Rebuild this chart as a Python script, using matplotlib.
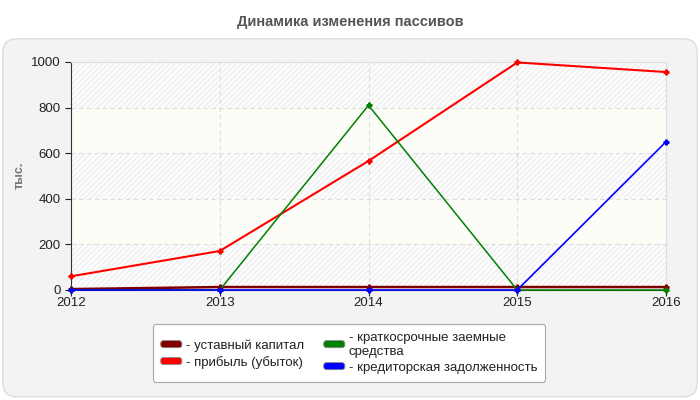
import matplotlib
matplotlib.use('Agg')
import matplotlib.pyplot as plt
from matplotlib.patches import FancyBboxPatch, Patch
from matplotlib.legend_handler import HandlerPatch

plt.rcParams['font.family'] = ['Liberation Sans', 'DejaVu Sans']

years = [2012, 2013, 2014, 2015, 2016]
ustavny = [4, 13, 13, 13, 13]
pribyl = [60, 171, 566, 998, 956]
kratko = [0, 0, 810, 0, 0]
kredit = [0, 0, 0, 0, 650]

series_labels = ['- уставный капитал', '- прибыль (убыток)',
                 '- краткосрочные заемные\nсредства', '- кредиторская задолженность']
series_colors = ['#800000', '#ff0000', '#008000', '#0000ff']
series_widths = [1.8, 1.5, 1.1, 1.2]

fig = plt.figure(figsize=(7, 4), dpi=100)
fig.patch.set_facecolor('white')

# rounded grey panel behind chart
panel = FancyBboxPatch((0.004, 0.008), 0.992, 0.895, boxstyle='round,pad=0,rounding_size=0.02',
                       transform=fig.transFigure, facecolor='#f3f3f3', edgecolor='#dddddd',
                       linewidth=1, zorder=-5, mutation_aspect=1.75)
fig.patches.append(panel)

fig.text(0.5, 0.945, 'Динамика изменения пассивов', ha='center', va='center',
         fontsize=10.5, fontweight='bold', color='#555555')

ax = fig.add_axes([71/700, 1 - 290/400, 595/700, 228/400])
ax.set_zorder(1)
ax.set_facecolor('#fdfdf8')

# alternating hatched bands
for lo in (0, 400, 800):
    ax.axhspan(lo, lo + 200, facecolor='#fdfdfd', hatch='//////', edgecolor='#efefef',
               linewidth=0, zorder=0)

ax.grid(True, color='#dddddd', linestyle=(0, (4, 3)), linewidth=0.8)
ax.set_axisbelow(True)

for vals, lab, col, lw in zip([ustavny, pribyl, kratko, kredit], series_labels,
                              series_colors, series_widths):
    ax.plot(years, vals, color=col, linewidth=lw, marker='P', markersize=3.5,
            clip_on=False, zorder=3, label=lab)

ax.set_xlim(2012, 2016)
ax.set_ylim(0, 1000)
ax.set_xticks(years)
ax.set_yticks([0, 200, 400, 600, 800, 1000])
ax.tick_params(labelsize=9.5, colors='#222222', length=4, width=0.8)
ax.tick_params(axis='x', pad=1)
for side in ('top', 'right'):
    ax.spines[side].set_color('#dddddd')
for side in ('left', 'bottom'):
    ax.spines[side].set_color('#333333')

fig.text(20/700, 1 - 175/400, 'тыс.', rotation=90, ha='center', va='center',
         fontsize=9, fontweight='bold', color='#777777')


class RoundHandler(HandlerPatch):
    def create_artists(self, legend, orig_handle, xdescent, ydescent, width, height,
                       fontsize, trans):
        p = FancyBboxPatch((0, height * 0.15), width, height * 0.7,
                           boxstyle='round,pad=0,rounding_size=2',
                           facecolor=orig_handle.get_facecolor(), edgecolor='#888888',
                           linewidth=0.6, transform=trans)
        return [p]


handles = [Patch(facecolor=c) for c in series_colors]
leg = fig.legend(handles, series_labels, loc='center', bbox_to_anchor=(349/700, 1 - 353/400),
                 ncol=2, fontsize=9.5, frameon=True, fancybox=True, edgecolor='#aaaaaa',
                 facecolor='white', framealpha=1, handlelength=1.6, handleheight=0.8,
                 handletextpad=0.3, columnspacing=1.5, labelspacing=0.3,
                 borderpad=0.6, handler_map={Patch: RoundHandler()})
leg.get_frame().set_linewidth(0.8)
for t in leg.get_texts():
    t.set_color('#222222')

fig.savefig('out.png', dpi=100)
